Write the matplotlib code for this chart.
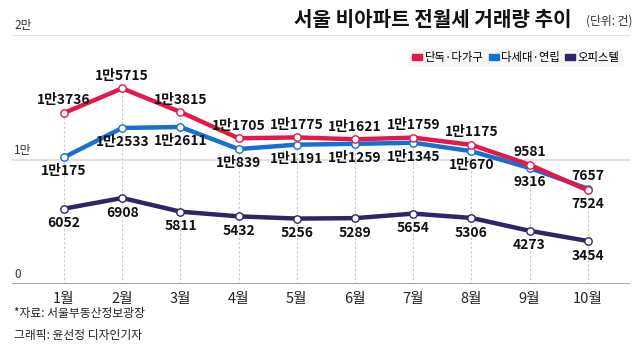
import matplotlib

matplotlib.use("Agg")
import matplotlib.pyplot as plt  # noqa: E402
from matplotlib.patches import Patch  # noqa: E402

plt.rcParams["font.family"] = ["Liberation Sans Narrow", "Noto Sans CJK KR", "DejaVu Sans"]

months = ["1월", "2월", "3월", "4월", "5월", "6월", "7월", "8월", "9월", "10월"]
detached = [13736, 15715, 13815, 11705, 11775, 11621, 11759, 11175, 9581, 7524]
multiplex = [10175, 12533, 12611, 10839, 11191, 11259, 11345, 10670, 9316, 7657]
officetel = [6052, 6908, 5811, 5432, 5256, 5289, 5654, 5306, 4273, 3454]
series_names = ["단독·다가구", "다세대·연립", "오피스텔"]

RED = "#e3194b"
BLUE = "#1670cf"
NAVY = "#2d2567"
KR = ["Liberation Sans Narrow", "Noto Sans CJK KR"]


def fmt(v):
    if v >= 10000:
        return f"{v // 10000}만{v % 10000}"
    return str(v)


fig = plt.figure(figsize=(6.4, 3.47), dpi=100)
ax = fig.add_axes([12 / 640, 1 - 284 / 347, 618 / 640, 249 / 347])
x = list(range(len(months)))

# dashed guides from the baseline up to the top point of each month
for i in x:
    top = max(detached[i], multiplex[i], officetel[i])
    ax.plot([i, i], [0, top], color="#c8c8c8", lw=0.8, ls=(0, (2, 2)), zorder=1)

for y in (10000, 20000):
    ax.axhline(y, color="#dddddd", lw=1.2, zorder=0)
ax.axhline(0, color="#999999", lw=1.2, zorder=2)

for vals, col in ((officetel, NAVY), (multiplex, BLUE), (detached, RED)):
    ax.plot(x, vals, color=col, lw=3.2, marker="o", ms=5.3,
            mfc="white", mec=col, mew=1.0, zorder=3, solid_joinstyle="round")

for i in x:
    # the higher of red/blue gets its label above, the other below
    red_up = detached[i] >= multiplex[i]
    for v, up in ((detached[i], red_up), (multiplex[i], not red_up)):
        ax.annotate(fmt(v), (i, v), xytext=(0, 9 if up else -10),
                    textcoords="offset points", ha="center", va="center",
                    fontsize=10, fontweight="bold", family=KR,
                    color="#111111", zorder=4)
    ax.annotate(fmt(officetel[i]), (i, officetel[i]), xytext=(0, -10.5),
                textcoords="offset points", ha="center", va="center",
                fontsize=10, fontweight="bold", family=KR,
                color="#111111", zorder=4)

ax.set_xlim((12 - 64) / 58.2, (630 - 64) / 58.2)
ax.set_ylim(0, 20000)
ax.set_xticks(x)
ax.set_xticklabels(months, fontsize=10.5, color="#222222")
ax.tick_params(axis="x", length=0, pad=6)
ax.set_yticks([])
for s in ax.spines.values():
    s.set_visible(False)

for y, t in ((20000, "2만"), (10000, "1만"), (0, "0")):
    ax.annotate(t, (0, y), xycoords=("axes fraction", "data"), xytext=(1.5, 2),
                textcoords="offset points", ha="left", va="bottom",
                fontsize=8.5, family=KR, color="#333333")

fig.text(572 / 640, 1 - 20 / 347, "서울 비아파트 전월세 거래량 추이", ha="right",
         va="center", fontsize=14.5, fontweight="bold", family="Noto Sans CJK KR",
         color="#111111")
fig.text(633 / 640, 1 - 21 / 347, "(단위: 건)", ha="right", va="center",
         fontsize=8.5, family=KR, color="#333333")

handles = [Patch(color=c) for c in (RED, BLUE, NAVY)]
leg = fig.legend(handles, series_names, loc="upper right",
                 bbox_to_anchor=(629 / 640, 1 - 43 / 347), ncol=3,
                 handlelength=0.85, handleheight=0.5,
                 handletextpad=0.25, columnspacing=0.45, borderpad=0.3,
                 frameon=True, fancybox=False, prop={"family": KR, "size": 8.2})
leg.get_frame().set_facecolor("#f4f4f4")
leg.get_frame().set_edgecolor("none")

fig.text(14 / 640, 1 - 313 / 347, "*자료: 서울부동산정보광장", ha="left", va="center",
         fontsize=8.5, family=KR, color="#222222")
fig.text(14 / 640, 1 - 336 / 347, "그래픽: 윤선정 디자인기자", ha="left", va="center",
         fontsize=8.5, family=KR, color="#222222")

fig.savefig("out.png", dpi=100)
plt.close(fig)
